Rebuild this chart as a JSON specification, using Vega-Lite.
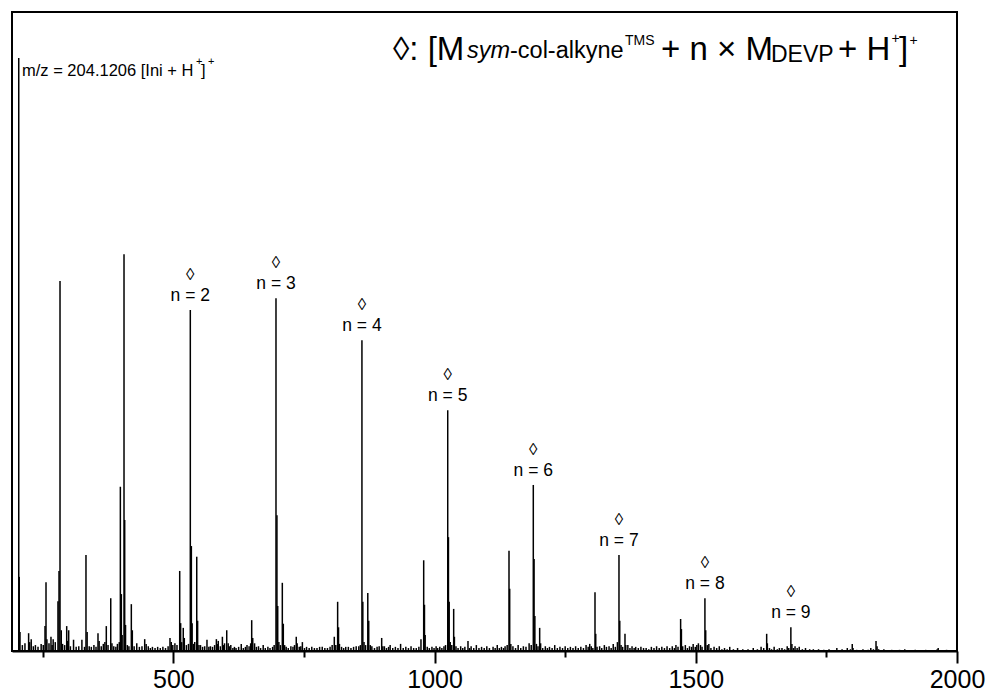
{
"$schema": "https://vega.github.io/schema/vega-lite/v6.json",
"width": 945, "height": 639,
"autosize": {"type": "none"},
"padding": {"left": 12, "top": 12, "right": 30, "bottom": 47},
"background": "white",
"config": {"view": {"stroke": "black", "strokeWidth": 2}, "font": "Liberation Sans", "text": {"font": "Liberation Sans", "color": "black"}},
"datasets": {
"one": [{}],
"peaks": [
{"mz":204.1,"i":100},{"mz":205.1,"i":12.5},{"mz":206.5,"i":3.2},{"mz":211,"i":1.0},{"mz":216,"i":1.3},{"mz":223,"i":3.0},{"mz":225,"i":1.5},{"mz":228,"i":2.0},{"mz":232,"i":0.8},{"mz":236,"i":1.0},{"mz":241,"i":0.7},{"mz":247,"i":1.2},{"mz":251,"i":1.0},{"mz":254.4,"i":4.2},{"mz":256.3,"i":11.6},{"mz":258,"i":2.0},{"mz":262,"i":1.3},{"mz":265.8,"i":2.4},{"mz":268,"i":1.0},{"mz":270,"i":2.0},{"mz":274,"i":1.5},{"mz":279.2,"i":8.4},{"mz":281.2,"i":13.5},{"mz":283.1,"i":62.4},{"mz":285.5,"i":3.5},{"mz":288,"i":1.2},{"mz":292,"i":1.0},{"mz":295.9,"i":4.2},{"mz":297.5,"i":1.7},{"mz":299.7,"i":3.5},{"mz":303,"i":0.8},{"mz":309,"i":1.9},{"mz":314,"i":0.7},{"mz":319,"i":0.8},{"mz":325,"i":1.9},{"mz":330,"i":0.7},{"mz":332.8,"i":16.2},{"mz":335,"i":3.2},{"mz":339,"i":0.8},{"mz":343,"i":0.7},{"mz":348,"i":1.0},{"mz":352,"i":0.7},{"mz":355.8,"i":3.0},{"mz":358,"i":1.7},{"mz":362,"i":0.8},{"mz":366,"i":1.2},{"mz":369,"i":1.5},{"mz":371.7,"i":4.2},{"mz":375,"i":1.0},{"mz":380.2,"i":8.9},{"mz":382.5,"i":1.3},{"mz":386,"i":0.8},{"mz":390,"i":0.7},{"mz":393,"i":1.2},{"mz":396.5,"i":1.5},{"mz":398.6,"i":27.7},{"mz":400.5,"i":9.6},{"mz":402,"i":2.7},{"mz":405.6,"i":66.9},{"mz":406.9,"i":22.1},{"mz":408.5,"i":4.4},{"mz":412,"i":1.0},{"mz":415,"i":0.8},{"mz":419.6,"i":7.9},{"mz":421.5,"i":3.5},{"mz":425,"i":0.8},{"mz":430,"i":1.3},{"mz":435,"i":0.7},{"mz":440,"i":0.8},{"mz":445.2,"i":2.0},{"mz":448,"i":1.2},{"mz":452,"i":0.8},{"mz":456,"i":0.5},{"mz":460,"i":0.7},{"mz":465,"i":0.5},{"mz":470,"i":0.7},{"mz":475,"i":0.5},{"mz":480,"i":0.7},{"mz":485,"i":0.5},{"mz":490,"i":0.8},{"mz":493.6,"i":2.2},{"mz":496,"i":1.5},{"mz":499,"i":1.0},{"mz":503,"i":1.3},{"mz":507,"i":1.0},{"mz":512.2,"i":13.5},{"mz":514,"i":4.7},{"mz":516,"i":1.5},{"mz":519,"i":3.9},{"mz":521,"i":2.2},{"mz":525,"i":1.0},{"mz":529,"i":1.2},{"mz":532.5,"i":57.5},{"mz":534.5,"i":17.7},{"mz":536,"i":4.7},{"mz":539,"i":1.2},{"mz":541,"i":1.5},{"mz":544.8,"i":15.9},{"mz":546.5,"i":5.1},{"mz":549,"i":1.0},{"mz":552,"i":1.0},{"mz":556,"i":0.7},{"mz":560,"i":0.8},{"mz":564.4,"i":1.9},{"mz":568,"i":0.7},{"mz":571,"i":0.8},{"mz":575,"i":0.7},{"mz":579,"i":1.0},{"mz":582.4,"i":2.0},{"mz":584,"i":1.2},{"mz":586,"i":1.7},{"mz":590,"i":0.8},{"mz":593.9,"i":2.4},{"mz":596,"i":1.0},{"mz":598,"i":1.3},{"mz":602.2,"i":3.5},{"mz":605,"i":1.3},{"mz":607,"i":0.8},{"mz":610,"i":1.0},{"mz":614,"i":0.5},{"mz":617,"i":0.7},{"mz":620,"i":0.5},{"mz":625,"i":0.7},{"mz":630,"i":1.2},{"mz":634,"i":0.5},{"mz":638,"i":0.7},{"mz":641,"i":1.0},{"mz":645,"i":0.8},{"mz":648,"i":1.3},{"mz":650,"i":5.2},{"mz":652,"i":2.2},{"mz":655.5,"i":1.3},{"mz":659,"i":0.7},{"mz":663,"i":0.8},{"mz":667,"i":0.5},{"mz":672,"i":1.0},{"mz":676,"i":0.5},{"mz":681,"i":0.7},{"mz":685,"i":0.5},{"mz":690,"i":0.7},{"mz":693,"i":1.0},{"mz":696.5,"i":59.5},{"mz":698.3,"i":22.9},{"mz":699.8,"i":7.6},{"mz":702,"i":1.5},{"mz":705,"i":1.0},{"mz":708.6,"i":11.5},{"mz":710.5,"i":4.6},{"mz":713,"i":1.0},{"mz":716,"i":0.7},{"mz":720,"i":0.5},{"mz":725,"i":0.8},{"mz":729,"i":0.7},{"mz":732,"i":1.0},{"mz":735.3,"i":2.4},{"mz":737,"i":1.3},{"mz":741,"i":0.7},{"mz":744,"i":0.8},{"mz":747,"i":1.5},{"mz":751,"i":0.5},{"mz":755,"i":0.7},{"mz":760,"i":0.5},{"mz":765,"i":0.7},{"mz":770,"i":0.5},{"mz":775,"i":0.5},{"mz":780,"i":0.7},{"mz":785,"i":0.7},{"mz":790,"i":0.5},{"mz":795,"i":0.5},{"mz":800,"i":0.7},{"mz":804,"i":1.0},{"mz":808.1,"i":2.4},{"mz":811,"i":1.0},{"mz":814.5,"i":8.3},{"mz":816.2,"i":4.0},{"mz":818,"i":1.2},{"mz":822,"i":0.7},{"mz":826,"i":0.5},{"mz":830,"i":0.7},{"mz":835,"i":0.7},{"mz":840,"i":0.5},{"mz":845,"i":0.7},{"mz":850,"i":0.8},{"mz":855,"i":0.8},{"mz":858,"i":1.0},{"mz":861,"i":52.4},{"mz":862.7,"i":8.3},{"mz":865,"i":1.5},{"mz":868,"i":1.0},{"mz":872.2,"i":9.8},{"mz":874,"i":5.1},{"mz":877,"i":1.0},{"mz":880,"i":0.8},{"mz":885,"i":0.5},{"mz":890,"i":0.7},{"mz":894,"i":0.8},{"mz":898.8,"i":2.2},{"mz":901,"i":0.8},{"mz":904,"i":0.8},{"mz":908,"i":0.5},{"mz":912,"i":0.7},{"mz":915,"i":1.0},{"mz":920,"i":0.5},{"mz":925,"i":0.7},{"mz":930,"i":0.5},{"mz":935,"i":1.2},{"mz":940,"i":0.5},{"mz":945,"i":0.7},{"mz":950,"i":0.5},{"mz":955,"i":0.8},{"mz":960,"i":0.5},{"mz":965,"i":0.5},{"mz":970,"i":0.7},{"mz":974,"i":2.0},{"mz":979.2,"i":15.3},{"mz":980.7,"i":7.8},{"mz":982,"i":2.7},{"mz":986,"i":0.7},{"mz":990,"i":0.5},{"mz":995,"i":0.7},{"mz":999,"i":0.5},{"mz":1003,"i":0.8},{"mz":1006,"i":0.5},{"mz":1010,"i":0.7},{"mz":1014,"i":0.5},{"mz":1018,"i":0.8},{"mz":1021,"i":1.0},{"mz":1025.2,"i":40.6},{"mz":1026.6,"i":19.2},{"mz":1028,"i":8.3},{"mz":1030,"i":1.5},{"mz":1033,"i":1.0},{"mz":1036.6,"i":7.1},{"mz":1038,"i":2.4},{"mz":1041,"i":0.8},{"mz":1045,"i":0.5},{"mz":1050,"i":0.8},{"mz":1054,"i":0.5},{"mz":1058,"i":0.7},{"mz":1064,"i":1.7},{"mz":1067,"i":0.5},{"mz":1070,"i":0.8},{"mz":1075,"i":0.5},{"mz":1080,"i":1.0},{"mz":1085,"i":0.5},{"mz":1090,"i":0.7},{"mz":1095,"i":0.5},{"mz":1100,"i":0.8},{"mz":1105,"i":0.5},{"mz":1112,"i":0.7},{"mz":1116,"i":0.5},{"mz":1120,"i":1.0},{"mz":1124,"i":0.5},{"mz":1128,"i":0.7},{"mz":1132,"i":0.5},{"mz":1135,"i":0.8},{"mz":1139,"i":1.0},{"mz":1142.5,"i":16.9},{"mz":1143.8,"i":10.5},{"mz":1146,"i":1.2},{"mz":1150,"i":0.8},{"mz":1155,"i":0.5},{"mz":1160,"i":1.0},{"mz":1165,"i":0.5},{"mz":1170,"i":0.8},{"mz":1175,"i":0.7},{"mz":1181,"i":1.3},{"mz":1185,"i":1.0},{"mz":1189,"i":28.0},{"mz":1190.5,"i":15.5},{"mz":1192,"i":5.9},{"mz":1195,"i":1.2},{"mz":1198,"i":0.8},{"mz":1201.2,"i":3.9},{"mz":1203,"i":1.3},{"mz":1207,"i":0.5},{"mz":1212,"i":0.8},{"mz":1216,"i":0.5},{"mz":1220,"i":0.7},{"mz":1225,"i":0.5},{"mz":1230,"i":1.0},{"mz":1235,"i":0.5},{"mz":1240,"i":0.7},{"mz":1245,"i":0.5},{"mz":1250,"i":0.8},{"mz":1255,"i":0.5},{"mz":1260,"i":0.7},{"mz":1265,"i":0.5},{"mz":1270,"i":0.8},{"mz":1275,"i":0.5},{"mz":1280,"i":0.7},{"mz":1285,"i":0.5},{"mz":1290,"i":1.0},{"mz":1294,"i":0.7},{"mz":1297,"i":1.2},{"mz":1300,"i":0.8},{"mz":1303,"i":0.5},{"mz":1307.1,"i":9.9},{"mz":1308.5,"i":2.9},{"mz":1311,"i":0.7},{"mz":1316,"i":0.8},{"mz":1320,"i":0.5},{"mz":1325,"i":1.0},{"mz":1329,"i":0.7},{"mz":1334,"i":0.8},{"mz":1338,"i":0.5},{"mz":1342,"i":1.2},{"mz":1346,"i":0.7},{"mz":1350,"i":1.5},{"mz":1353,"i":16.2},{"mz":1354.5,"i":5.1},{"mz":1357,"i":1.0},{"mz":1360,"i":0.7},{"mz":1364.5,"i":2.9},{"mz":1366,"i":1.0},{"mz":1370,"i":1.0},{"mz":1374,"i":0.5},{"mz":1378,"i":0.8},{"mz":1382,"i":0.5},{"mz":1385,"i":0.7},{"mz":1390,"i":0.5},{"mz":1395,"i":0.7},{"mz":1400,"i":0.5},{"mz":1405,"i":0.5},{"mz":1410,"i":0.3},{"mz":1415,"i":0.7},{"mz":1420,"i":0.5},{"mz":1425,"i":0.8},{"mz":1430,"i":0.5},{"mz":1435,"i":0.7},{"mz":1440,"i":0.5},{"mz":1445,"i":0.8},{"mz":1450,"i":0.5},{"mz":1455,"i":0.8},{"mz":1459,"i":0.5},{"mz":1462,"i":1.0},{"mz":1466,"i":0.7},{"mz":1471,"i":5.4},{"mz":1472.5,"i":3.7},{"mz":1475,"i":0.8},{"mz":1480,"i":1.0},{"mz":1484,"i":0.5},{"mz":1488,"i":0.8},{"mz":1492,"i":0.7},{"mz":1495,"i":1.2},{"mz":1499,"i":0.7},{"mz":1502,"i":1.0},{"mz":1505,"i":1.3},{"mz":1509,"i":1.0},{"mz":1512,"i":0.7},{"mz":1517.5,"i":8.9},{"mz":1519,"i":3.5},{"mz":1522,"i":1.0},{"mz":1525,"i":1.2},{"mz":1529,"i":0.5},{"mz":1535,"i":0.7},{"mz":1540,"i":0.5},{"mz":1545,"i":0.8},{"mz":1550,"i":0.3},{"mz":1555,"i":0.5},{"mz":1560,"i":0.3},{"mz":1565,"i":0.7},{"mz":1572,"i":0.3},{"mz":1580,"i":0.5},{"mz":1590,"i":0.3},{"mz":1600,"i":0.3},{"mz":1610,"i":0.5},{"mz":1618,"i":0.3},{"mz":1625,"i":0.7},{"mz":1630,"i":0.5},{"mz":1635.7,"i":2.9},{"mz":1637,"i":1.3},{"mz":1641,"i":0.5},{"mz":1645,"i":0.3},{"mz":1650,"i":0.7},{"mz":1656,"i":0.3},{"mz":1660,"i":0.5},{"mz":1665,"i":0.5},{"mz":1670,"i":0.3},{"mz":1675,"i":0.8},{"mz":1678,"i":0.5},{"mz":1682,"i":4.0},{"mz":1684,"i":1.2},{"mz":1687,"i":0.5},{"mz":1690,"i":0.8},{"mz":1694,"i":0.5},{"mz":1698,"i":0.7},{"mz":1704,"i":0.3},{"mz":1710,"i":0.5},{"mz":1718,"i":0.3},{"mz":1725,"i":0.3},{"mz":1735,"i":0.3},{"mz":1745,"i":0.2},{"mz":1755,"i":0.3},{"mz":1770,"i":0.5},{"mz":1780,"i":0.3},{"mz":1790,"i":0.5},{"mz":1796,"i":0.3},{"mz":1799.5,"i":1.2},{"mz":1801,"i":0.5},{"mz":1808,"i":0.2},{"mz":1820,"i":0.3},{"mz":1830,"i":0.2},{"mz":1835,"i":0.5},{"mz":1840,"i":0.3},{"mz":1845,"i":1.7},{"mz":1847,"i":0.8},{"mz":1850,"i":0.3},{"mz":1860,"i":0.3},{"mz":1875,"i":0.2},{"mz":1890,"i":0.2},{"mz":1900,"i":0.3},{"mz":1920,"i":0.2},{"mz":1940,"i":0.2},{"mz":1962,"i":0.3},{"mz":1964,"i":0.5},{"mz":1980,"i":0.2}
],
"labels": [
{"mz":532.5,"i":57.5,"n":"n = 2"},{"mz":696.5,"i":59.5,"n":"n = 3"},{"mz":861,"i":52.4,"n":"n = 4"},{"mz":1025.2,"i":40.6,"n":"n = 5"},{"mz":1189,"i":28.0,"n":"n = 6"},{"mz":1353,"i":16.2,"n":"n = 7"},{"mz":1517.5,"i":8.9,"n":"n = 8"},{"mz":1682,"i":4.0,"n":"n = 9"}
]
},
"layer": [
{"data": {"name": "peaks"},
 "mark": {"type": "rule", "color": "black", "strokeWidth": 1.5},
 "encoding": {
  "x": {"field": "mz", "type": "quantitative", "scale": {"domain": [191.2, 2000], "nice": false, "zero": false},
        "axis": {"orient": "bottom", "values": [500, 1000, 1500, 2000], "tickSize": 12, "tickWidth": 2, "tickColor": "black", "domainColor": "black", "domainWidth": 2, "labelFont": "Liberation Sans", "labelFontSize": 25, "labelColor": "black", "labelPadding": 4, "labelFlush": false, "labelOverlap": false, "grid": false, "title": null, "format": "d"}},
  "y": {"field": "i", "type": "quantitative", "scale": {"domain": [0, 107.76], "nice": false, "zero": true}, "axis": null},
  "y2": {"datum": 0}
 }},
{"data": {"name": "labels"},
 "mark": {"type": "text", "text": "◊", "dy": -35, "fontSize": 17, "baseline": "middle", "align": "center", "font": "Liberation Sans"},
 "encoding": {
  "x": {"field": "mz", "type": "quantitative", "axis": {"orient": "bottom", "values": [250, 750, 1250, 1750], "tickSize": 6, "tickWidth": 2, "tickColor": "black", "domain": false, "labels": false, "grid": false, "title": null}},
  "y": {"field": "i", "type": "quantitative", "axis": null}
 }},
{"data": {"name": "labels"},
 "mark": {"type": "text", "dy": -14, "fontSize": 17.5, "baseline": "middle", "align": "center", "font": "Liberation Sans"},
 "encoding": {
  "x": {"field": "mz", "type": "quantitative", "axis": null},
  "y": {"field": "i", "type": "quantitative", "axis": null},
  "text": {"field": "n"}
 }},
{"data": {"name": "one"}, "mark": {"type": "text", "text": "m/z = 204.1206 [Ini + H", "fontSize": 16.5, "align": "left", "baseline": "alphabetic"},
 "encoding": {"x": {"datum": 210.3, "type": "quantitative", "axis": null}, "y": {"datum": 96.96, "type": "quantitative", "axis": null}}},
{"data": {"name": "one"}, "mark": {"type": "text", "text": "+", "fontSize": 11, "align": "left", "baseline": "alphabetic"},
 "encoding": {"x": {"datum": 543.4, "type": "quantitative", "axis": null}, "y": {"datum": 98.82, "type": "quantitative", "axis": null}}},
{"data": {"name": "one"}, "mark": {"type": "text", "text": "]", "fontSize": 16.5, "align": "left", "baseline": "alphabetic"},
 "encoding": {"x": {"datum": 553.0, "type": "quantitative", "axis": null}, "y": {"datum": 96.96, "type": "quantitative", "axis": null}}},
{"data": {"name": "one"}, "mark": {"type": "text", "text": "+", "fontSize": 11, "align": "left", "baseline": "alphabetic"},
 "encoding": {"x": {"datum": 566.4, "type": "quantitative", "axis": null}, "y": {"datum": 98.82, "type": "quantitative", "axis": null}}},
{"data": {"name": "one"}, "mark": {"type": "text", "text": "◊: [M", "fontSize": 33, "align": "left", "baseline": "alphabetic"},
 "encoding": {"x": {"datum": 920.5, "type": "quantitative", "axis": null}, "y": {"datum": 99.66, "type": "quantitative", "axis": null}}},
{"data": {"name": "one"}, "mark": {"type": "text", "text": "sym", "fontSize": 23.5, "fontStyle": "italic", "align": "left", "baseline": "alphabetic"},
 "encoding": {"x": {"datum": 1062.1, "type": "quantitative", "axis": null}, "y": {"datum": 100.0, "type": "quantitative", "axis": null}}},
{"data": {"name": "one"}, "mark": {"type": "text", "text": "-col-alkyne", "fontSize": 23.5, "align": "left", "baseline": "alphabetic"},
 "encoding": {"x": {"datum": 1144.4, "type": "quantitative", "axis": null}, "y": {"datum": 100.0, "type": "quantitative", "axis": null}}},
{"data": {"name": "one"}, "mark": {"type": "text", "text": "TMS", "fontSize": 14, "align": "left", "baseline": "alphabetic"},
 "encoding": {"x": {"datum": 1364.5, "type": "quantitative", "axis": null}, "y": {"datum": 102.19, "type": "quantitative", "axis": null}}},
{"data": {"name": "one"}, "mark": {"type": "text", "text": "+ n × M", "fontSize": 33, "align": "left", "baseline": "alphabetic"},
 "encoding": {"x": {"datum": 1433.4, "type": "quantitative", "axis": null}, "y": {"datum": 99.66, "type": "quantitative", "axis": null}}},
{"data": {"name": "one"}, "mark": {"type": "text", "text": "DEVP", "fontSize": 23, "align": "left", "baseline": "alphabetic"},
 "encoding": {"x": {"datum": 1644.0, "type": "quantitative", "axis": null}, "y": {"datum": 99.33, "type": "quantitative", "axis": null}}},
{"data": {"name": "one"}, "mark": {"type": "text", "text": "+ H", "fontSize": 33, "align": "left", "baseline": "alphabetic"},
 "encoding": {"x": {"datum": 1772.2, "type": "quantitative", "axis": null}, "y": {"datum": 99.66, "type": "quantitative", "axis": null}}},
{"data": {"name": "one"}, "mark": {"type": "text", "text": "+", "fontSize": 14, "align": "left", "baseline": "alphabetic"},
 "encoding": {"x": {"datum": 1874.6, "type": "quantitative", "axis": null}, "y": {"datum": 102.45, "type": "quantitative", "axis": null}}},
{"data": {"name": "one"}, "mark": {"type": "text", "text": "]", "fontSize": 33, "align": "left", "baseline": "alphabetic"},
 "encoding": {"x": {"datum": 1889.0, "type": "quantitative", "axis": null}, "y": {"datum": 99.66, "type": "quantitative", "axis": null}}},
{"data": {"name": "one"}, "mark": {"type": "text", "text": "+", "fontSize": 14, "align": "left", "baseline": "alphabetic"},
 "encoding": {"x": {"datum": 1909.1, "type": "quantitative", "axis": null}, "y": {"datum": 102.19, "type": "quantitative", "axis": null}}}
],
"resolve": {"axis": {"x": "independent"}}
}
